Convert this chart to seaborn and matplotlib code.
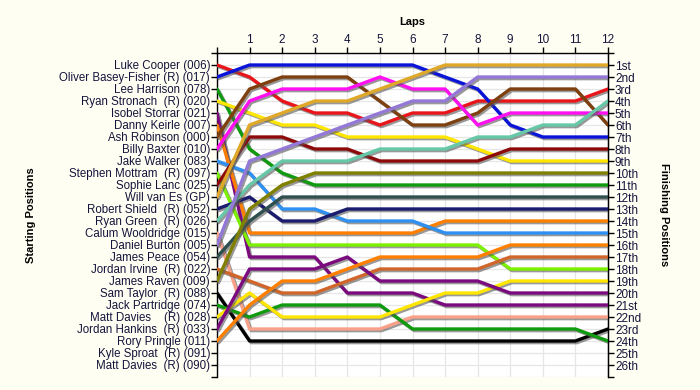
import pandas as pd
import seaborn as sns
import matplotlib.pyplot as plt
import matplotlib.patheffects as pe

# Starting grid, top to bottom
drivers = ['Luke Cooper (006)', 'Oliver Basey-Fisher (R) (017)', 'Lee Harrison (078)',
           'Ryan Stronach  (R) (020)', 'Isobel Storrar (021)', 'Danny Keirle (007)',
           'Ash Robinson (000)', 'Billy Baxter (010)', 'Jake Walker (083)',
           'Stephen Mottram  (R) (097)', 'Sophie Lanc (025)', 'Will van Es (GP)',
           'Robert Shield  (R) (052)', 'Ryan Green  (R) (026)', 'Calum Wooldridge (015)',
           'Daniel Burton (005)', 'James Peace (054)', 'Jordan Irvine  (R) (022)',
           'James Raven (009)', 'Sam Taylor  (R) (088)', 'Jack Partridge (074)',
           'Matt Davies    (R) (028)', 'Jordan Hankins  (R) (033)', 'Rory Pringle (011)',
           'Kyle Sproat  (R) (091)', 'Matt Davies  (R) (090)']

laps = list(range(13))

# position at lap 0..12 for each driver that ran
positions = {
    'Luke Cooper (006)':             [1, 2, 4, 5, 5, 6, 5, 5, 4, 4, 4, 4, 3],
    'Oliver Basey-Fisher (R) (017)': [2, 1, 1, 1, 1, 1, 1, 2, 3, 6, 7, 7, 7],
    'Lee Harrison (078)':            [3, 8, 10, 11, 11, 11, 11, 11, 11, 11, 11, 11, 11],
    'Ryan Stronach  (R) (020)':      [4, 5, 6, 6, 7, 7, 7, 7, 8, 9, 9, 9, 9],
    'Isobel Storrar (021)':          [5, 17, 17, 17, 20, 20, 20, 21, 21, 21, 21, 21, 21],
    'Danny Keirle (007)':            [6, 15, 15, 15, 15, 15, 15, 14, 14, 14, 14, 14, 14],
    'Ash Robinson (000)':            [7, 3, 2, 2, 2, 4, 6, 6, 5, 3, 3, 3, 6],
    'Billy Baxter (010)':            [8, 4, 3, 3, 3, 2, 3, 3, 6, 5, 5, 5, 5],
    'Jake Walker (083)':             [9, 10, 13, 13, 14, 14, 14, 15, 15, 15, 15, 15, 15],
    'Stephen Mottram  (R) (097)':    [10, 16, 16, 16, 16, 16, 16, 16, 16, 18, 18, 18, 18],
    'Sophie Lanc (025)':             [11, 7, 7, 8, 8, 9, 9, 9, 9, 8, 8, 8, 8],
    'Will van Es (GP)':              [12, 6, 5, 4, 4, 3, 2, 1, 1, 1, 1, 1, 1],
    'Robert Shield  (R) (052)':      [13, 12, 14, 14, 13, 13, 13, 13, 13, 13, 13, 13, 13],
    'Ryan Green  (R) (026)':         [14, 11, 9, 9, 9, 8, 8, 8, 7, 7, 6, 6, 4],
    'Calum Wooldridge (015)':        [15, 23, 23, 23, 23, 23, 22, 22, 22, 22, 22, 22, 22],
    'Daniel Burton (005)':           [16, 9, 8, 7, 6, 5, 4, 4, 2, 2, 2, 2, 2],
    'James Peace (054)':             [17, 14, 12, 12, 12, 12, 12, 12, 12, 12, 12, 12, 12],
    'Jordan Irvine  (R) (022)':      [18, 19, 20, 20, 19, 18, 18, 18, 18, 17, 17, 17, 17],
    'James Raven (009)':             [19, 13, 11, 10, 10, 10, 10, 10, 10, 10, 10, 10, 10],
    'Sam Taylor  (R) (088)':         [20, 24, 24, 24, 24, 24, 24, 24, 24, 24, 24, 24, 23],
    'Jack Partridge (074)':          [21, 22, 21, 21, 21, 21, 23, 23, 23, 23, 23, 23, 24],
    'Matt Davies    (R) (028)':      [22, 20, 22, 22, 22, 22, 21, 20, 20, 19, 19, 19, 19],
    'Jordan Hankins  (R) (033)':     [23, 18, 18, 18, 17, 19, 19, 19, 19, 20, 20, 20, 20],
    'Rory Pringle (011)':            [24, 21, 19, 19, 18, 17, 17, 17, 17, 16, 16, 16, 16],
}

colors = ['#E8161B', '#0A14D8', '#0F9A0F', '#FFE600', '#7A0A7E', '#FF7F00',
          '#7F4010', '#FF10F0', '#2E90F0', '#7CF000', '#8E0A0A', '#E0A828',
          '#1C1C6E', '#66C8A8', '#F8A088', '#9378D8', '#2F4F4F', '#D0662A',
          '#7F7F00', '#000000', '#0F9A0F', '#FFE600', '#7A0A7E', '#FF7F00']

finish_labels = ['1st', '2nd', '3rd'] + [f'{i}th' for i in range(4, 21)] + \
                ['21st', '22nd', '23rd', '24th', '25th', '26th']

rows = []
for d, pos in positions.items():
    for lap, p in zip(laps, pos):
        rows.append({'driver': d, 'lap': lap, 'pos': p})
df = pd.DataFrame(rows)
palette = dict(zip(positions.keys(), colors))

sns.set_style('white')
plt.rcParams['font.family'] = ['Liberation Sans', 'DejaVu Sans']
bg = '#FFFEF2'
txt = '#14143C'

fig = plt.figure(figsize=(7, 3.9), dpi=100, facecolor=bg)
ax = fig.add_axes([217 / 700, 13 / 390, 391 / 700, 324 / 390])
ax.set_facecolor('white')

sns.lineplot(data=df, x='lap', y='pos', hue='driver', palette=palette,
             legend=False, linewidth=2.4, sort=False, ax=ax, zorder=3)
for line in ax.lines:
    line.set_solid_joinstyle('round')
    line.set_path_effects([pe.SimpleLineShadow(offset=(1.2, -1.2), shadow_color='#555555', alpha=0.6),
                           pe.Normal()])

ax.set_xlim(0, 12)
ax.set_ylim(27, 0)
ax.set_xticks(laps)
ax.set_xticklabels([''] + [str(i) for i in laps[1:]])
ax.set_yticks(range(28))
ax.set_yticklabels([''] + drivers + [''])
ax.xaxis.tick_top()
ax.xaxis.set_label_position('top')
ax.grid(True, color='#E6E6E6', linewidth=0.9, zorder=0)
ax.set_axisbelow(True)
ax.tick_params(axis='both', direction='out', length=4, width=1, color='black',
               labelsize=8.3, labelcolor=txt, pad=1)
ax.tick_params(axis='x', labelsize=8.5)
ax.set_xlabel('Laps', fontsize=8, fontweight='bold', color='black')
ax.xaxis.set_label_coords(0.5, 1.085)
ax.set_ylabel('Starting Positions', fontsize=8, fontweight='bold', color='black')
ax.yaxis.set_label_coords(-0.462, 0.5)
for s in ['left', 'top', 'right']:
    ax.spines[s].set_color('black')
    ax.spines[s].set_linewidth(1)
ax.spines['bottom'].set_visible(False)

ax2 = ax.twinx()
ax2.set_ylim(27, 0)
ax2.set_yticks(range(28))
ax2.set_yticklabels([''] + finish_labels + [''])
ax2.tick_params(axis='y', direction='out', length=4, width=1, color='black',
                labelsize=8.5, labelcolor=txt, pad=1)
ax2.set_ylabel('Finishing Positions', fontsize=8, fontweight='bold', rotation=270,
               color='black')
ax2.yaxis.set_label_coords(1.155, 0.5)
for s in ['left', 'top', 'bottom']:
    ax2.spines[s].set_visible(False)
ax2.spines['right'].set_color('black')
ax2.grid(False)

plt.savefig('out.png', dpi=100, facecolor=bg)
